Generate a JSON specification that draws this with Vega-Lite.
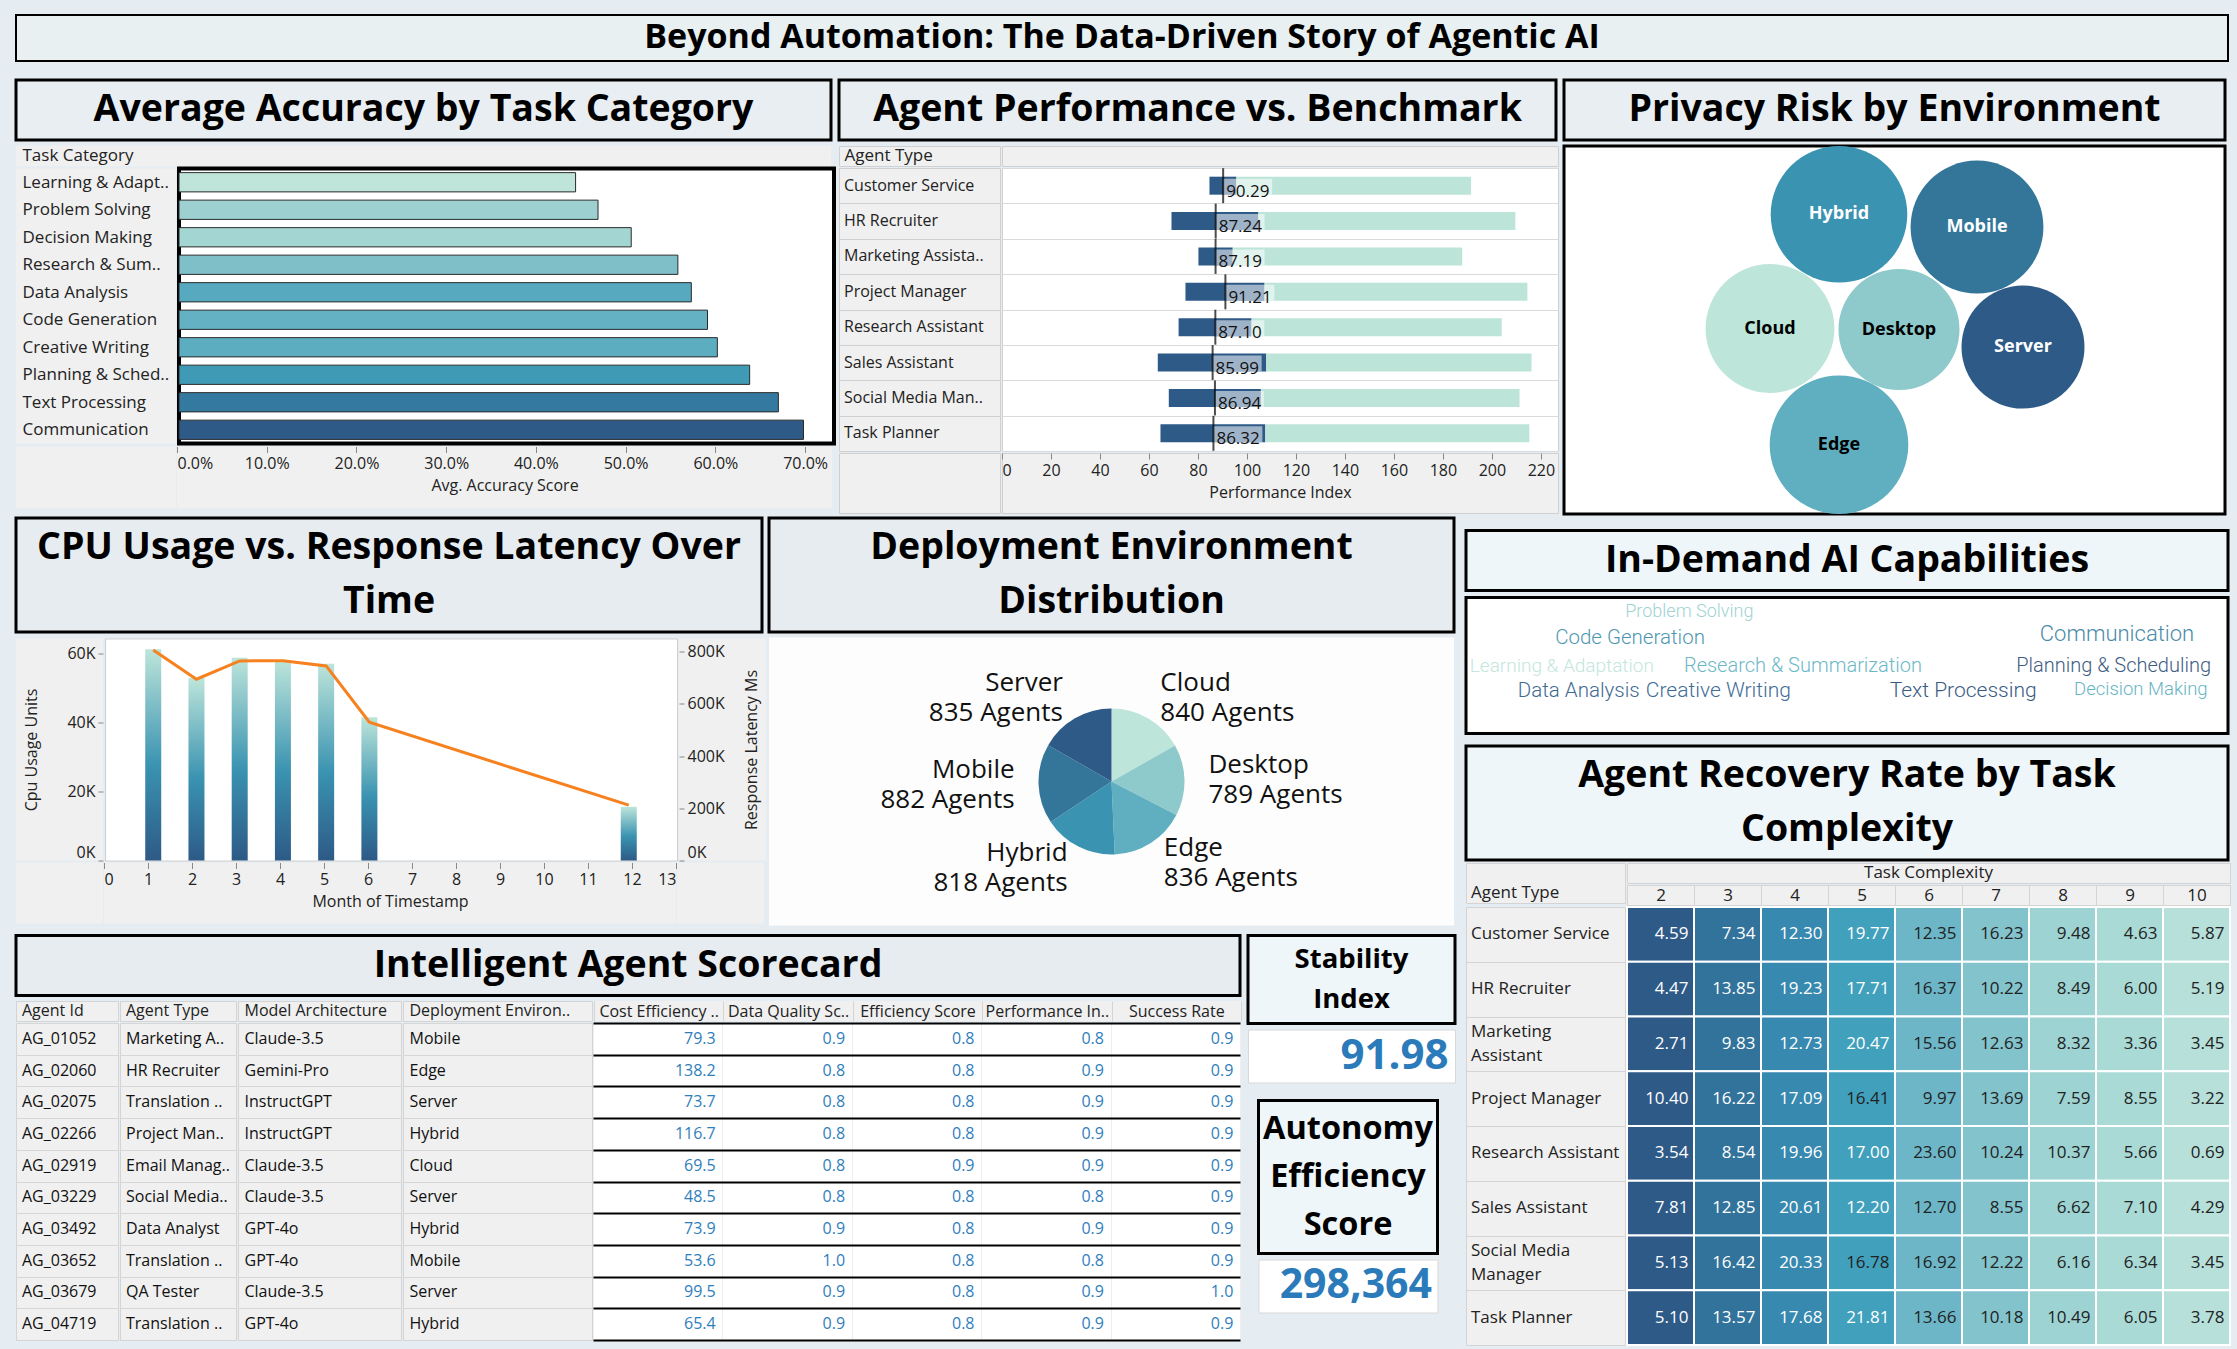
{
"$schema":"https://vega.github.io/schema/vega-lite/v6.json",
"background":"#e5edf3",
"padding":{"left":14,"top":14,"right":13,"bottom":6},
"config":{
 "font":"Open Sans",
 "view":{"stroke":null},
 "axis":{"labelFont":"Open Sans","titleFont":"Open Sans","labelFontSize":16,"titleFontSize":16,"titleFontWeight":"normal","labelColor":"#222","titleColor":"#222","tickColor":"#888","grid":false,"minExtent":0},
 "text":{"font":"Open Sans"}
},
"datasets":{
 "acc":[
  {"Task Category":"Learning & Adaptation","Avg Accuracy":0.442},
  {"Task Category":"Problem Solving","Avg Accuracy":0.467},
  {"Task Category":"Decision Making","Avg Accuracy":0.504},
  {"Task Category":"Research & Summarization","Avg Accuracy":0.556},
  {"Task Category":"Data Analysis","Avg Accuracy":0.571},
  {"Task Category":"Code Generation","Avg Accuracy":0.589},
  {"Task Category":"Creative Writing","Avg Accuracy":0.600},
  {"Task Category":"Planning & Scheduling","Avg Accuracy":0.636},
  {"Task Category":"Text Processing","Avg Accuracy":0.668},
  {"Task Category":"Communication","Avg Accuracy":0.696}
 ],
 "perf":[
  {"agent":"Customer Service","low":84.7,"mid":95.7,"high":191.5,"avg":90.29,"bandHigh":110.3},
  {"agent":"HR Recruiter","low":69.2,"mid":104.7,"high":209.6,"avg":87.24,"bandHigh":107.2},
  {"agent":"Marketing Assistant","low":80.2,"mid":94.2,"high":187.9,"avg":87.19,"bandHigh":107.2},
  {"agent":"Project Manager","low":74.9,"mid":107.2,"high":214.5,"avg":91.21,"bandHigh":111.2},
  {"agent":"Research Assistant","low":72.1,"mid":101.9,"high":204.0,"avg":87.10,"bandHigh":107.1},
  {"agent":"Sales Assistant","low":63.6,"mid":107.9,"high":216.2,"avg":85.99,"bandHigh":106.0},
  {"agent":"Social Media Manager","low":68.1,"mid":105.7,"high":211.3,"avg":86.94,"bandHigh":106.9},
  {"agent":"Task Planner","low":64.7,"mid":107.5,"high":215.3,"avg":86.32,"bandHigh":106.3}
 ],
 "bubble":[
  {"env":"Hybrid","px":27.5,"py":7.0,"risk":46.6},
  {"env":"Mobile","px":41.3,"py":8.3,"risk":44.1},
  {"env":"Cloud","px":20.6,"py":18.7,"risk":41.5},
  {"env":"Desktop","px":33.5,"py":18.8,"risk":36.6},
  {"env":"Server","px":45.9,"py":20.6,"risk":37.8},
  {"env":"Edge","px":27.5,"py":30.6,"risk":48.0}
 ],
 "cpu":[
  {"month":1,"cpu":61400,"latency":806700},
  {"month":2,"cpu":53000,"latency":695000},
  {"month":3,"cpu":58900,"latency":765000},
  {"month":4,"cpu":58000,"latency":766000},
  {"month":5,"cpu":57200,"latency":746000},
  {"month":6,"cpu":41600,"latency":530000},
  {"month":12,"cpu":15600,"latency":212000}
 ],
 "deploy":[
  {"env":"Cloud","agents":840},
  {"env":"Desktop","agents":789},
  {"env":"Edge","agents":836},
  {"env":"Hybrid","agents":818},
  {"env":"Mobile","agents":882},
  {"env":"Server","agents":835}
 ],
 "skills":[
  {"skill":"Problem Solving","wx":20.9,"wy":11.0,"demand":180},
  {"skill":"Code Generation","wx":11.7,"wy":30.1,"demand":205},
  {"skill":"Communication","wx":75.3,"wy":27.2,"demand":220},
  {"skill":"Learning & Adaptation","wx":0.5,"wy":50.0,"demand":190},
  {"skill":"Research & Summarization","wx":28.6,"wy":50.0,"demand":200},
  {"skill":"Planning & Scheduling","wx":72.2,"wy":50.0,"demand":200},
  {"skill":"Data Analysis","wx":6.8,"wy":68.4,"demand":205},
  {"skill":"Creative Writing","wx":23.6,"wy":69.1,"demand":210},
  {"skill":"Text Processing","wx":55.6,"wy":69.1,"demand":210},
  {"skill":"Decision Making","wx":79.8,"wy":67.6,"demand":185}
 ],
 "recovery":[
  {"agent":"Customer Service","complexity":2,"rate":4.59},{"agent":"Customer Service","complexity":3,"rate":7.34},{"agent":"Customer Service","complexity":4,"rate":12.30},{"agent":"Customer Service","complexity":5,"rate":19.77},{"agent":"Customer Service","complexity":6,"rate":12.35},{"agent":"Customer Service","complexity":7,"rate":16.23},{"agent":"Customer Service","complexity":8,"rate":9.48},{"agent":"Customer Service","complexity":9,"rate":4.63},{"agent":"Customer Service","complexity":10,"rate":5.87},
  {"agent":"HR Recruiter","complexity":2,"rate":4.47},{"agent":"HR Recruiter","complexity":3,"rate":13.85},{"agent":"HR Recruiter","complexity":4,"rate":19.23},{"agent":"HR Recruiter","complexity":5,"rate":17.71},{"agent":"HR Recruiter","complexity":6,"rate":16.37},{"agent":"HR Recruiter","complexity":7,"rate":10.22},{"agent":"HR Recruiter","complexity":8,"rate":8.49},{"agent":"HR Recruiter","complexity":9,"rate":6.00},{"agent":"HR Recruiter","complexity":10,"rate":5.19},
  {"agent":"Marketing Assistant","complexity":2,"rate":2.71},{"agent":"Marketing Assistant","complexity":3,"rate":9.83},{"agent":"Marketing Assistant","complexity":4,"rate":12.73},{"agent":"Marketing Assistant","complexity":5,"rate":20.47},{"agent":"Marketing Assistant","complexity":6,"rate":15.56},{"agent":"Marketing Assistant","complexity":7,"rate":12.63},{"agent":"Marketing Assistant","complexity":8,"rate":8.32},{"agent":"Marketing Assistant","complexity":9,"rate":3.36},{"agent":"Marketing Assistant","complexity":10,"rate":3.45},
  {"agent":"Project Manager","complexity":2,"rate":10.40},{"agent":"Project Manager","complexity":3,"rate":16.22},{"agent":"Project Manager","complexity":4,"rate":17.09},{"agent":"Project Manager","complexity":5,"rate":16.41},{"agent":"Project Manager","complexity":6,"rate":9.97},{"agent":"Project Manager","complexity":7,"rate":13.69},{"agent":"Project Manager","complexity":8,"rate":7.59},{"agent":"Project Manager","complexity":9,"rate":8.55},{"agent":"Project Manager","complexity":10,"rate":3.22},
  {"agent":"Research Assistant","complexity":2,"rate":3.54},{"agent":"Research Assistant","complexity":3,"rate":8.54},{"agent":"Research Assistant","complexity":4,"rate":19.96},{"agent":"Research Assistant","complexity":5,"rate":17.00},{"agent":"Research Assistant","complexity":6,"rate":23.60},{"agent":"Research Assistant","complexity":7,"rate":10.24},{"agent":"Research Assistant","complexity":8,"rate":10.37},{"agent":"Research Assistant","complexity":9,"rate":5.66},{"agent":"Research Assistant","complexity":10,"rate":0.69},
  {"agent":"Sales Assistant","complexity":2,"rate":7.81},{"agent":"Sales Assistant","complexity":3,"rate":12.85},{"agent":"Sales Assistant","complexity":4,"rate":20.61},{"agent":"Sales Assistant","complexity":5,"rate":12.20},{"agent":"Sales Assistant","complexity":6,"rate":12.70},{"agent":"Sales Assistant","complexity":7,"rate":8.55},{"agent":"Sales Assistant","complexity":8,"rate":6.62},{"agent":"Sales Assistant","complexity":9,"rate":7.10},{"agent":"Sales Assistant","complexity":10,"rate":4.29},
  {"agent":"Social Media Manager","complexity":2,"rate":5.13},{"agent":"Social Media Manager","complexity":3,"rate":16.42},{"agent":"Social Media Manager","complexity":4,"rate":20.33},{"agent":"Social Media Manager","complexity":5,"rate":16.78},{"agent":"Social Media Manager","complexity":6,"rate":16.92},{"agent":"Social Media Manager","complexity":7,"rate":12.22},{"agent":"Social Media Manager","complexity":8,"rate":6.16},{"agent":"Social Media Manager","complexity":9,"rate":6.34},{"agent":"Social Media Manager","complexity":10,"rate":3.45},
  {"agent":"Task Planner","complexity":2,"rate":5.10},{"agent":"Task Planner","complexity":3,"rate":13.57},{"agent":"Task Planner","complexity":4,"rate":17.68},{"agent":"Task Planner","complexity":5,"rate":21.81},{"agent":"Task Planner","complexity":6,"rate":13.66},{"agent":"Task Planner","complexity":7,"rate":10.18},{"agent":"Task Planner","complexity":8,"rate":10.49},{"agent":"Task Planner","complexity":9,"rate":6.05},{"agent":"Task Planner","complexity":10,"rate":3.78}
 ],
 "score":[
  {"Agent Id":"AG_01052","Agent Type":"Marketing Assistant","Model Architecture":"Claude-3.5","Deployment Environment":"Mobile","Cost Efficiency Ratio":79.3,"Data Quality Score":0.9,"Efficiency Score":0.8,"Performance Index":0.8,"Success Rate":0.9},
  {"Agent Id":"AG_02060","Agent Type":"HR Recruiter","Model Architecture":"Gemini-Pro","Deployment Environment":"Edge","Cost Efficiency Ratio":138.2,"Data Quality Score":0.8,"Efficiency Score":0.8,"Performance Index":0.9,"Success Rate":0.9},
  {"Agent Id":"AG_02075","Agent Type":"Translation Agent","Model Architecture":"InstructGPT","Deployment Environment":"Server","Cost Efficiency Ratio":73.7,"Data Quality Score":0.8,"Efficiency Score":0.8,"Performance Index":0.9,"Success Rate":0.9},
  {"Agent Id":"AG_02266","Agent Type":"Project Manager","Model Architecture":"InstructGPT","Deployment Environment":"Hybrid","Cost Efficiency Ratio":116.7,"Data Quality Score":0.8,"Efficiency Score":0.8,"Performance Index":0.9,"Success Rate":0.9},
  {"Agent Id":"AG_02919","Agent Type":"Email Manager","Model Architecture":"Claude-3.5","Deployment Environment":"Cloud","Cost Efficiency Ratio":69.5,"Data Quality Score":0.8,"Efficiency Score":0.9,"Performance Index":0.9,"Success Rate":0.9},
  {"Agent Id":"AG_03229","Agent Type":"Social Media Manager","Model Architecture":"Claude-3.5","Deployment Environment":"Server","Cost Efficiency Ratio":48.5,"Data Quality Score":0.8,"Efficiency Score":0.8,"Performance Index":0.8,"Success Rate":0.9},
  {"Agent Id":"AG_03492","Agent Type":"Data Analyst","Model Architecture":"GPT-4o","Deployment Environment":"Hybrid","Cost Efficiency Ratio":73.9,"Data Quality Score":0.9,"Efficiency Score":0.8,"Performance Index":0.9,"Success Rate":0.9},
  {"Agent Id":"AG_03652","Agent Type":"Translation Agent","Model Architecture":"GPT-4o","Deployment Environment":"Mobile","Cost Efficiency Ratio":53.6,"Data Quality Score":1.0,"Efficiency Score":0.8,"Performance Index":0.8,"Success Rate":0.9},
  {"Agent Id":"AG_03679","Agent Type":"QA Tester","Model Architecture":"Claude-3.5","Deployment Environment":"Server","Cost Efficiency Ratio":99.5,"Data Quality Score":0.9,"Efficiency Score":0.8,"Performance Index":0.9,"Success Rate":1.0},
  {"Agent Id":"AG_04719","Agent Type":"Translation Agent","Model Architecture":"GPT-4o","Deployment Environment":"Hybrid","Cost Efficiency Ratio":65.4,"Data Quality Score":0.9,"Efficiency Score":0.8,"Performance Index":0.9,"Success Rate":0.9}
 ]
},
"spacing":16,
"resolve":{"scale":{"color":"independent","size":"independent"}},
"vconcat":[
 {"width":2212,"height":46,"data":{"values":[{"t":"Beyond Automation: The Data-Driven Story of Agentic AI"}]},"mark":{"type":"text","fontSize":34,"fontWeight":"bold","color":"#000"},"encoding":{"text":{"field":"t","type":"nominal"}},"view":{"fill":"#e8f0f1","stroke":"#000","strokeWidth":2}},
 {"spacing":0,"resolve":{"scale":{"color":"independent","size":"independent"}},"vconcat":[
  {"spacing":1,"resolve":{"scale":{"color":"independent","size":"independent"}},"hconcat":[
   {"spacing":3.5,"resolve":{"scale":{"color":"independent","size":"independent"}},"vconcat":[
    {"width":815,"height":60,"data":{"values":[{"t":"Average Accuracy by Task Category"}]},"mark":{"type":"text","fontSize":37.5,"fontWeight":"bold","color":"#000"},"encoding":{"text":{"field":"t","type":"nominal"}},"view":{"fill":"#e8eef2","stroke":"#000","strokeWidth":3}},
    {"spacing":0,"resolve":{"scale":{"color":"independent","size":"independent"}},"vconcat":[
     {"width":815,"height":21,"data":{"values":[{"t":"Task Category"}]},"mark":{"type":"text","align":"left","dx":-401,"fontSize":17,"color":"#222"},"encoding":{"text":{"field":"t","type":"nominal"}},"view":{"fill":"#f0f0f0","stroke":null}},
     {"spacing":0,"resolve":{"scale":{"color":"independent","size":"independent"}},"hconcat":[
      {"width":160,"height":275,"data":{"name":"acc"},"mark":{"type":"point","opacity":0},
       "encoding":{"y":{"field":"Task Category","type":"nominal","sort":{"field":"Avg Accuracy","order":"ascending"},"scale":{"paddingInner":0.3,"paddingOuter":0.15},
         "axis":{"orient":"left","offset":-160,"title":null,"labelAlign":"left","labelPadding":154,"labelFontSize":17,"ticks":false,"domain":false,"labelLimit":160,
                 "labelExpr":"datum.label == 'Learning & Adaptation' ? 'Learning & Adapt..' : datum.label == 'Research & Summarization' ? 'Research & Sum..' : datum.label == 'Planning & Scheduling' ? 'Planning & Sched..' : datum.label"}}},
       "view":{"fill":"#f0f0f0","stroke":null}},
      {"width":655,"height":275,"data":{"name":"acc"},
       "mark":{"type":"bar","stroke":"#2b2b2b","strokeWidth":1},
       "encoding":{
        "y":{"field":"Task Category","type":"nominal","sort":{"field":"Avg Accuracy","order":"ascending"},"scale":{"paddingInner":0.3,"paddingOuter":0.15},"axis":null},
        "x":{"field":"Avg Accuracy","type":"quantitative","scale":{"domain":[0,0.73],"nice":false},"axis":null},
        "color":{"field":"Avg Accuracy","type":"quantitative","legend":null,"scale":{"domain":[0.442,0.467,0.504,0.556,0.571,0.589,0.600,0.636,0.668,0.696],"range":["#bfe5da","#9dd1d1","#a3d6d2","#7fc0c8","#56a9bf","#63b1c2","#5dadc1","#3f9ab5","#347aa0","#2e5a87"]}}
       },
       "view":{"fill":"white","stroke":"#000","strokeWidth":4}}
     ]},
     {"spacing":0,"resolve":{"scale":{"color":"independent","size":"independent"}},"hconcat":[
      {"width":160,"height":62,"data":{"values":[{}]},"mark":{"type":"text","text":""},"encoding":{},"view":{"fill":"#f0f0f0","stroke":null}},
      {"width":655,"height":62,"data":{"name":"acc"},"mark":{"type":"point","opacity":0},
       "encoding":{"x":{"field":"Avg Accuracy","type":"quantitative","scale":{"domain":[0,0.73],"nice":false},
         "axis":{"orient":"bottom","offset":-62,"values":[0,0.1,0.2,0.3,0.4,0.5,0.6,0.7],"format":".1%","labelFlush":true,"tickSize":6,"domain":false,"title":"Avg. Accuracy Score","labelPadding":3,"titlePadding":6}}},
       "view":{"fill":"#f0f0f0","stroke":null}}
     ]}
    ]}
   ]},
   {"spacing":3,"resolve":{"scale":{"color":"independent","size":"independent"}},"hconcat":[
    {"spacing":3,"resolve":{"scale":{"color":"independent","size":"independent"}},"vconcat":[
     {"width":717,"height":60,"data":{"values":[{"t":"Agent Performance vs. Benchmark"}]},"mark":{"type":"text","fontSize":37.5,"fontWeight":"bold","color":"#000"},"encoding":{"text":{"field":"t","type":"nominal"}},"view":{"fill":"#e8eef2","stroke":"#000","strokeWidth":3}},
     {"spacing":0,"resolve":{"scale":{"color":"independent","size":"independent"}},"vconcat":[
      {"spacing":0,"resolve":{"scale":{"color":"independent","size":"independent"}},"hconcat":[
       {"width":161,"height":20,"data":{"values":[{"t":"Agent Type"}]},"mark":{"type":"text","align":"left","dx":-75,"fontSize":17,"color":"#222"},"encoding":{"text":{"field":"t","type":"nominal"}},"view":{"fill":"#f0f0f0","stroke":"#d0d0d0"}},
       {"width":556,"height":20,"data":{"values":[{}]},"mark":{"type":"text","text":""},"encoding":{},"view":{"fill":"#f0f0f0","stroke":"#d0d0d0"}}
      ]},
      {"spacing":0,"resolve":{"scale":{"color":"independent","size":"independent"}},"hconcat":[
       {"width":161,"height":283,"data":{"name":"perf"},
        "transform":[{"calculate":"datum.agent == 'Marketing Assistant' ? 'Marketing Assista..' : datum.agent == 'Social Media Manager' ? 'Social Media Man..' : datum.agent","as":"disp"}],
        "mark":{"type":"text","align":"left","dx":-75.5,"fontSize":16,"color":"#222"},
        "encoding":{
         "y":{"field":"agent","type":"nominal","sort":null,"scale":{"paddingInner":0,"paddingOuter":0},"axis":{"title":null,"labels":false,"ticks":false,"domain":false,"grid":true,"gridColor":"#d0d0d0","tickBand":"extent"}},
         "text":{"field":"disp","type":"nominal"}},
        "view":{"fill":"#f0f0f0","stroke":"#d0d0d0"}},
       {"width":556,"height":283,"data":{"name":"perf"},
        "encoding":{"y":{"field":"agent","type":"nominal","sort":null,"scale":{"paddingInner":0,"paddingOuter":0},
          "axis":{"title":null,"labels":false,"ticks":false,"domain":false,"grid":true,"gridColor":"#dadada","tickBand":"extent"}}},
        "layer":[
         {"mark":{"type":"bar","height":18,"color":"#2e5a87"},"encoding":{"x":{"field":"low","type":"quantitative","scale":{"domain":[0,227],"nice":false},"axis":null},"x2":{"field":"mid"}}},
         {"mark":{"type":"bar","height":18,"color":"#bde4d8"},"encoding":{"x":{"field":"mid","type":"quantitative","axis":null},"x2":{"field":"high"}}},
         {"mark":{"type":"bar","height":16,"color":"#ffffff","opacity":0.54,"yOffset":1},"encoding":{"x":{"field":"avg","type":"quantitative","axis":null},"x2":{"field":"bandHigh"}}},
         {"mark":{"type":"tick","color":"#000","thickness":2,"size":35},"encoding":{"x":{"field":"avg","type":"quantitative","axis":null}}},
         {"mark":{"type":"text","align":"left","dx":3,"dy":6,"fontSize":17,"color":"#111"},"encoding":{"x":{"field":"avg","type":"quantitative","axis":null},"text":{"field":"avg","type":"quantitative","format":".2f"}}}
        ],
        "view":{"fill":"white","stroke":"#d0d0d0"}}
      ]},
      {"spacing":0,"resolve":{"scale":{"color":"independent","size":"independent"}},"hconcat":[
       {"width":161,"height":60,"data":{"values":[{}]},"mark":{"type":"text","text":""},"encoding":{},"view":{"fill":"#f0f0f0","stroke":"#d0d0d0"}},
       {"width":556,"height":60,"data":{"name":"perf"},"mark":{"type":"point","opacity":0},
        "encoding":{"x":{"field":"avg","type":"quantitative","scale":{"domain":[0,227],"nice":false},
          "axis":{"orient":"bottom","offset":-60,"values":[0,20,40,60,80,100,120,140,160,180,200,220],"labelFlush":true,"tickSize":6,"domain":false,"title":"Performance Index","labelPadding":3,"titlePadding":6}}},
        "view":{"fill":"#f0f0f0","stroke":"#d0d0d0"}}
      ]}
     ]}
    ]},
    {"spacing":2,"resolve":{"scale":{"color":"independent","size":"independent"}},"vconcat":[
     {"width":661,"height":60,"data":{"values":[{"t":"Privacy Risk by Environment"}]},"mark":{"type":"text","fontSize":37.5,"fontWeight":"bold","color":"#000"},"encoding":{"text":{"field":"t","type":"nominal"}},"view":{"fill":"#e8eef2","stroke":"#000","strokeWidth":3}},
     {"width":661,"height":368,"data":{"name":"bubble"},
      "encoding":{
       "x":{"field":"px","type":"quantitative","scale":{"domain":[0,66.1],"nice":false,"zero":false},"axis":null},
       "y":{"field":"py","type":"quantitative","scale":{"domain":[0,37.7],"nice":false,"zero":false,"reverse":true},"axis":null}
      },
      "layer":[
       {"mark":{"type":"circle","opacity":1},"encoding":{
         "size":{"field":"risk","type":"quantitative","scale":{"domain":[0,48],"range":[0,19210]},"legend":null},
         "color":{"field":"env","type":"nominal","legend":null,"scale":{"domain":["Cloud","Desktop","Edge","Hybrid","Mobile","Server"],"range":["#bde5da","#8ecacb","#5fafc1","#3a93b1","#33769a","#2d5a86"]}}}},
       {"mark":{"type":"text","fontSize":18,"fontWeight":"bold"},"encoding":{
         "text":{"field":"env","type":"nominal"},
         "color":{"condition":{"test":"indexof(['Hybrid','Mobile','Server'], datum.env) >= 0","value":"#ffffff"},"value":"#000000"}}}
      ],
      "view":{"fill":"white","stroke":"#000","strokeWidth":3}}
    ]}
   ]}
  ]},
  {"spacing":7,"resolve":{"scale":{"color":"independent","size":"independent"}},"hconcat":[
   {"spacing":7.5,"resolve":{"scale":{"color":"independent","size":"independent"}},"vconcat":[
    {"spacing":1,"resolve":{"scale":{"color":"independent","size":"independent"}},"hconcat":[
     {"spacing":3.5,"resolve":{"scale":{"color":"independent","size":"independent"}},"vconcat":[
      {"width":746,"height":114,"data":{"values":[{"t":"CPU Usage vs. Response Latency Over\nTime"}]},"mark":{"type":"text","fontSize":37.5,"fontWeight":"bold","lineBreak":"\n","lineHeight":54,"dy":-27,"color":"#000"},"encoding":{"text":{"field":"t","type":"nominal"}},"view":{"fill":"#e6ecf0","stroke":"#000","strokeWidth":3}},
      {"spacing":0,"resolve":{"scale":{"color":"independent","size":"independent"}},"vconcat":[
       {"spacing":0,"resolve":{"scale":{"color":"independent","size":"independent"}},"hconcat":[
        {"width":87,"height":222,"data":{"name":"cpu"},"mark":{"type":"point","opacity":0},
         "encoding":{"y":{"field":"cpu","type":"quantitative","scale":{"domain":[0,64500],"nice":false},
           "axis":{"orient":"left","offset":-87,"title":"Cpu Usage Units","values":[0,20000,40000,60000],"labelExpr":"format(datum.value/1000,'d') + 'K'","labelFlush":true,"tickSize":5,"labelPadding":3,"domain":false,"titleX":-72,"titleY":111,"titleAngle":-90,"titleBaseline":"middle"}}},
         "view":{"fill":"#f0f0f0","stroke":null}},
        {"width":572,"height":222,"data":{"name":"cpu"},
         "layer":[
          {"mark":{"type":"bar","width":16,"color":{"gradient":"linear","x1":0,"y1":1,"x2":0,"y2":0,"stops":[{"offset":0,"color":"#2d5a86"},{"offset":0.45,"color":"#3a93b1"},{"offset":1,"color":"#bde5da"}]}},
           "encoding":{
            "x":{"field":"month","type":"quantitative","scale":{"domain":[0,13],"nice":false},"axis":null},
            "y":{"field":"cpu","type":"quantitative","scale":{"domain":[0,64500],"nice":false},"axis":null}}},
          {"mark":{"type":"line","color":"#f7811e","strokeWidth":3},
           "encoding":{
            "x":{"field":"month","type":"quantitative","axis":null},
            "y":{"field":"latency","type":"quantitative","scale":{"domain":[0,851000],"nice":false},"axis":null}}}
         ],
         "resolve":{"scale":{"y":"independent"}},
         "view":{"fill":"white","stroke":"#cfcfcf"}},
        {"width":87,"height":222,"data":{"name":"cpu"},"mark":{"type":"point","opacity":0},
         "encoding":{"y":{"field":"latency","type":"quantitative","scale":{"domain":[0,851000],"nice":false},
           "axis":{"orient":"right","offset":-87,"title":"Response Latency Ms","values":[0,200000,400000,600000,800000],"labelExpr":"format(datum.value/1000,'d') + 'K'","labelFlush":true,"tickSize":5,"labelPadding":3,"domain":false,"titleX":72,"titleY":111,"titleAngle":-90,"titleBaseline":"middle"}}},
         "view":{"fill":"#f0f0f0","stroke":null}}
       ]},
       {"spacing":0,"resolve":{"scale":{"color":"independent","size":"independent"}},"hconcat":[
        {"width":87,"height":61,"data":{"values":[{}]},"mark":{"type":"text","text":""},"encoding":{},"view":{"fill":"#f0f0f0","stroke":null}},
        {"width":572,"height":61,"data":{"name":"cpu"},"mark":{"type":"point","opacity":0},
         "encoding":{"x":{"field":"month","type":"quantitative","scale":{"domain":[0,13],"nice":false},
           "axis":{"orient":"bottom","offset":-61,"values":[0,1,2,3,4,5,6,7,8,9,10,11,12,13],"labelFlush":true,"tickSize":6,"domain":false,"title":"Month of Timestamp","labelPadding":3,"titlePadding":6}}},
         "view":{"fill":"#f0f0f0","stroke":null}},
        {"width":87,"height":61,"data":{"values":[{}]},"mark":{"type":"text","text":""},"encoding":{},"view":{"fill":"#f0f0f0","stroke":null}}
       ]}
      ]}
     ]},
     {"spacing":3.5,"resolve":{"scale":{"color":"independent","size":"independent"}},"vconcat":[
      {"width":685,"height":114,"data":{"values":[{"t":"Deployment Environment\nDistribution"}]},"mark":{"type":"text","fontSize":37.5,"fontWeight":"bold","lineBreak":"\n","lineHeight":54,"dy":-27,"color":"#000"},"encoding":{"text":{"field":"t","type":"nominal"}},"view":{"fill":"#e6ecf0","stroke":"#000","strokeWidth":3}},
      {"width":685,"height":288,"data":{"name":"deploy"},
       "transform":[{"calculate":"[datum.env, datum.agents + ' Agents']","as":"label"}],
       "encoding":{
        "theta":{"field":"agents","type":"quantitative","stack":true},
        "order":{"field":"env","type":"ordinal","sort":"ascending"}
       },
       "layer":[
        {"mark":{"type":"arc","outerRadius":73},"encoding":{"color":{"field":"env","type":"nominal","legend":null,"scale":{"domain":["Cloud","Desktop","Edge","Hybrid","Mobile","Server"],"range":["#bde5da","#8ecacb","#5fafc1","#3a93b1","#33769a","#2d5a86"]}}}},
        {"mark":{"type":"text","radius":97,"align":"left","baseline":"middle","fontSize":26,"lineHeight":30,"dy":-15,"color":"#111"},
         "encoding":{"detail":{"field":"env","type":"nominal"},"text":{"condition":{"test":"indexof(['Cloud','Desktop','Edge'], datum.env) >= 0","field":"label","type":"nominal"},"value":""}}},
        {"mark":{"type":"text","radius":97,"align":"right","baseline":"middle","fontSize":26,"lineHeight":30,"dy":-15,"color":"#111"},
         "encoding":{"detail":{"field":"env","type":"nominal"},"text":{"condition":{"test":"indexof(['Hybrid','Mobile','Server'], datum.env) >= 0","field":"label","type":"nominal"},"value":""}}}
       ],
       "view":{"fill":"#fdfdfd","stroke":null}}
     ]}
    ]},
    {"spacing":4,"resolve":{"scale":{"color":"independent","size":"independent"}},"hconcat":[
     {"spacing":2.5,"resolve":{"scale":{"color":"independent","size":"independent"}},"vconcat":[
      {"width":1224,"height":60,"data":{"values":[{"t":"Intelligent Agent Scorecard"}]},"mark":{"type":"text","fontSize":37.5,"fontWeight":"bold","color":"#000"},"encoding":{"text":{"field":"t","type":"nominal"}},"view":{"fill":"#e6ecf0","stroke":"#000","strokeWidth":3}},
      {"spacing":0,"resolve":{"scale":{"color":"independent","size":"independent"}},"vconcat":[
       {"spacing":0,"resolve":{"scale":{"color":"independent","size":"independent"}},"hconcat":[
        {"width":102,"height":20,"data":{"values":[{"h":"Agent Id"}]},"mark":{"type":"text","align":"left","dx":-45,"fontSize":16,"color":"#222"},"encoding":{"text":{"field":"h","type":"nominal"}},"view":{"fill":"#f0f0f0","stroke":"#d4d4d4"}},
        {"width":116,"height":20,"data":{"values":[{"h":"Agent Type"}]},"mark":{"type":"text","align":"left","dx":-52,"fontSize":16,"color":"#222"},"encoding":{"text":{"field":"h","type":"nominal"}},"view":{"fill":"#f0f0f0","stroke":"#d4d4d4"}},
        {"width":163,"height":20,"data":{"values":[{"h":"Model Architecture"}]},"mark":{"type":"text","align":"left","dx":-75,"fontSize":16,"color":"#222"},"encoding":{"text":{"field":"h","type":"nominal"}},"view":{"fill":"#f0f0f0","stroke":"#d4d4d4"}},
        {"width":189,"height":20,"data":{"values":[{"h":"Deployment Environment"}]},"mark":{"type":"text","align":"left","dx":-88,"fontSize":16,"color":"#222","limit":168,"ellipsis":".."},"encoding":{"text":{"field":"h","type":"nominal"}},"view":{"fill":"#f0f0f0","stroke":"#d4d4d4"}},
        {"width":647,"height":20,"data":{"name":"score"},
         "transform":[{"fold":["Cost Efficiency Ratio","Data Quality Score","Efficiency Score","Performance Index","Success Rate"],"as":["metric","val"]}],
         "mark":{"type":"point","opacity":0},
         "encoding":{"x":{"field":"metric","type":"nominal","sort":null,"scale":{"paddingInner":0,"paddingOuter":0},
           "axis":{"orient":"top","offset":-20,"title":null,"labelAngle":0,"labelAlign":"center","labelBaseline":"middle","labelPadding":-10,"tickSize":20,"tickBand":"extent","tickColor":"#d4d4d4","domain":false,
             "labelExpr":"datum.label == 'Cost Efficiency Ratio' ? 'Cost Efficiency ..' : datum.label == 'Data Quality Score' ? 'Data Quality Sc..' : datum.label == 'Performance Index' ? 'Performance In..' : datum.label"}}},
         "view":{"fill":"#f0f0f0","stroke":null}}
       ]},
       {"spacing":0,"resolve":{"scale":{"color":"independent","size":"independent"}},"hconcat":[
        {"width":102,"height":317,"data":{"name":"score"},
         "mark":{"type":"text","align":"left","dx":-45,"fontSize":16,"color":"#111"},
         "encoding":{
          "y":{"field":"Agent Id","type":"nominal","sort":null,"scale":{"paddingInner":0,"paddingOuter":0},"axis":{"title":null,"labels":false,"ticks":false,"domain":false,"grid":true,"gridColor":"#d6d6d6","tickBand":"extent"}},
          "text":{"field":"Agent Id","type":"nominal"}},
         "view":{"fill":"#f0f0f0","stroke":"#d4d4d4"}},
        {"width":116,"height":317,"data":{"name":"score"},
         "mark":{"type":"text","align":"left","dx":-52,"fontSize":16,"color":"#111","limit":105,"ellipsis":".."},
         "encoding":{
          "y":{"field":"Agent Id","type":"nominal","sort":null,"scale":{"paddingInner":0,"paddingOuter":0},"axis":{"title":null,"labels":false,"ticks":false,"domain":false,"grid":true,"gridColor":"#d6d6d6","tickBand":"extent"}},
          "text":{"field":"Agent Type","type":"nominal"}},
         "view":{"fill":"#f0f0f0","stroke":"#d4d4d4"}},
        {"width":163,"height":317,"data":{"name":"score"},
         "mark":{"type":"text","align":"left","dx":-75,"fontSize":16,"color":"#111"},
         "encoding":{
          "y":{"field":"Agent Id","type":"nominal","sort":null,"scale":{"paddingInner":0,"paddingOuter":0},"axis":{"title":null,"labels":false,"ticks":false,"domain":false,"grid":true,"gridColor":"#d6d6d6","tickBand":"extent"}},
          "text":{"field":"Model Architecture","type":"nominal"}},
         "view":{"fill":"#f0f0f0","stroke":"#d4d4d4"}},
        {"width":189,"height":317,"data":{"name":"score"},
         "mark":{"type":"text","align":"left","dx":-88,"fontSize":16,"color":"#111"},
         "encoding":{
          "y":{"field":"Agent Id","type":"nominal","sort":null,"scale":{"paddingInner":0,"paddingOuter":0},"axis":{"title":null,"labels":false,"ticks":false,"domain":false,"grid":true,"gridColor":"#d6d6d6","tickBand":"extent"}},
          "text":{"field":"Deployment Environment","type":"nominal"}},
         "view":{"fill":"#f0f0f0","stroke":"#d4d4d4"}},
        {"width":647,"height":317,"data":{"name":"score"},
         "transform":[{"fold":["Cost Efficiency Ratio","Data Quality Score","Efficiency Score","Performance Index","Success Rate"],"as":["metric","val"]}],
         "mark":{"type":"text","align":"right","dx":58,"fontSize":16,"color":"#2f7ebc"},
         "encoding":{
          "x":{"field":"metric","type":"nominal","sort":null,"scale":{"paddingInner":0,"paddingOuter":0},"axis":{"title":null,"labels":false,"ticks":false,"domain":false,"grid":true,"gridColor":"#eeeeee","tickBand":"extent"}},
          "y":{"field":"Agent Id","type":"nominal","sort":null,"scale":{"paddingInner":0,"paddingOuter":0},"axis":{"title":null,"labels":false,"ticks":false,"domain":false,"grid":true,"gridColor":"#000000","gridWidth":2,"tickBand":"extent"}},
          "text":{"field":"val","type":"quantitative","format":".1f"}},
         "view":{"fill":"white","stroke":null}}
       ]}
      ]}
     ]},
     {"spacing":15,"resolve":{"scale":{"color":"independent","size":"independent"}},"vconcat":[
      {"spacing":3,"resolve":{"scale":{"color":"independent","size":"independent"}},"vconcat":[
       {"width":207,"height":88,"data":{"values":[{"t":"Stability Index"}]},"mark":{"type":"text","fontSize":27.5,"fontWeight":"bold","lineBreak":" ","lineHeight":40,"dy":-20,"color":"#000"},"encoding":{"text":{"field":"t","type":"nominal"}},"view":{"fill":"#eef6fa","stroke":"#000","strokeWidth":3}},
       {"width":207,"height":53,"data":{"values":[{"k":"Stability Index","v":91.98}]},"mark":{"type":"text","fontSize":42,"fontWeight":"bold","align":"right","dx":97,"color":"#2b7bba"},"encoding":{"text":{"field":"v","type":"quantitative","format":".2f"}},"view":{"fill":"white","stroke":"#d8d8d8"}}
      ]},
      {"spacing":7.5,"resolve":{"scale":{"color":"independent","size":"independent"}},"hconcat":[
       {"width":1,"height":1,"data":{"values":[{}]},"mark":{"type":"rect","opacity":0},"encoding":{}},
       {"spacing":3,"resolve":{"scale":{"color":"independent","size":"independent"}},"vconcat":[
        {"width":179,"height":153,"data":{"values":[{"t":"Autonomy Efficiency Score"}]},"mark":{"type":"text","fontSize":32.5,"fontWeight":"bold","lineBreak":" ","lineHeight":48,"dy":-48,"color":"#000"},"encoding":{"text":{"field":"t","type":"nominal"}},"view":{"fill":"#eef6fa","stroke":"#000","strokeWidth":3}},
        {"width":179,"height":53,"data":{"values":[{"k":"Autonomy Efficiency Score","v":298364}]},"mark":{"type":"text","fontSize":41,"fontWeight":"bold","align":"right","dx":84,"color":"#2b7bba"},"encoding":{"text":{"field":"v","type":"quantitative","format":","}},"view":{"fill":"white","stroke":"#d8d8d8"}}
       ]}
      ]}
     ]}
    ]}
   ]},
   {"spacing":8.5,"resolve":{"scale":{"color":"independent","size":"independent"}},"vconcat":[
    {"width":762,"height":2,"data":{"values":[{}]},"mark":{"type":"rect","opacity":0},"encoding":{}},
    {"spacing":3,"resolve":{"scale":{"color":"independent","size":"independent"}},"vconcat":[
     {"width":762,"height":60,"data":{"values":[{"t":"In-Demand AI Capabilities"}]},"mark":{"type":"text","fontSize":37.5,"fontWeight":"bold","color":"#000"},"encoding":{"text":{"field":"t","type":"nominal"}},"view":{"fill":"#eef6fa","stroke":"#000","strokeWidth":3}},
     {"width":762,"height":136,"data":{"name":"skills"},
      "mark":{"type":"text","align":"left","baseline":"middle","font":"Roboto","fontWeight":300,"clip":true},
      "encoding":{
       "x":{"field":"wx","type":"quantitative","scale":{"domain":[0,100],"nice":false,"zero":false},"axis":null},
       "y":{"field":"wy","type":"quantitative","scale":{"domain":[0,100],"nice":false,"zero":false,"reverse":true},"axis":null},
       "text":{"field":"skill","type":"nominal"},
       "size":{"field":"demand","type":"quantitative","scale":{"domain":[0,220],"range":[0,22]},"legend":null},
       "color":{"field":"skill","type":"nominal","legend":null,"scale":{
         "domain":["Problem Solving","Code Generation","Communication","Learning & Adaptation","Research & Summarization","Planning & Scheduling","Data Analysis","Creative Writing","Text Processing","Decision Making"],
         "range":["#9ed3d2","#4f97b1","#4a8aa8","#c3e6dd","#6db8c7","#3d5d82","#3f6a91","#3e6c95","#385b83","#67b4c4"]}}
      },
      "view":{"fill":"white","stroke":"#000","strokeWidth":3}}
    ]},
    {"spacing":0,"resolve":{"scale":{"color":"independent","size":"independent"}},"vconcat":[
     {"width":762,"height":114,"data":{"values":[{"t":"Agent Recovery Rate by Task\nComplexity"}]},"mark":{"type":"text","fontSize":37.5,"fontWeight":"bold","lineBreak":"\n","lineHeight":54,"dy":-27,"color":"#000"},"encoding":{"text":{"field":"t","type":"nominal"}},"view":{"fill":"#eef6fa","stroke":"#000","strokeWidth":3}},
     {"spacing":0,"resolve":{"scale":{"color":"independent","size":"independent"}},"vconcat":[
      {"spacing":0,"resolve":{"scale":{"color":"independent","size":"independent"}},"hconcat":[
       {"width":159,"height":40,"data":{"values":[{"h":"Agent Type"}]},"mark":{"type":"text","align":"left","dx":-74.5,"dy":10,"fontSize":17,"color":"#222"},"encoding":{"text":{"field":"h","type":"nominal"}},"view":{"fill":"#f0f0f0","stroke":"#d4d4d4"}},
       {"spacing":0,"resolve":{"scale":{"color":"independent","size":"independent"}},"vconcat":[
        {"width":603,"height":20,"data":{"values":[{"h":"Task Complexity"}]},"mark":{"type":"text","fontSize":17,"color":"#222"},"encoding":{"text":{"field":"h","type":"nominal"}},"view":{"fill":"#f0f0f0","stroke":"#d4d4d4"}},
        {"width":603,"height":20,"data":{"name":"recovery"},"mark":{"type":"point","opacity":0},
         "encoding":{"x":{"field":"complexity","type":"ordinal","scale":{"paddingInner":0,"paddingOuter":0},
           "axis":{"orient":"top","offset":-20,"title":null,"labelAngle":0,"labelBaseline":"middle","labelPadding":-10,"labelFontSize":17,"tickSize":20,"tickBand":"extent","tickColor":"#d4d4d4","domain":false}}},
         "view":{"fill":"#f0f0f0","stroke":"#d4d4d4"}}
       ]}
      ]},
      {"spacing":0,"resolve":{"scale":{"color":"independent","size":"independent"}},"hconcat":[
       {"width":159,"height":438,"data":{"name":"recovery"},
        "transform":[{"aggregate":[{"op":"count","as":"n"}],"groupby":["agent"]}],
        "encoding":{"y":{"field":"agent","type":"nominal","scale":{"domain":["Customer Service","HR Recruiter","Marketing Assistant","Project Manager","Research Assistant","Sales Assistant","Social Media Manager","Task Planner"],"paddingInner":0,"paddingOuter":0},
          "axis":{"title":null,"labels":false,"ticks":false,"domain":false,"grid":true,"gridColor":"#d4d4d4","tickBand":"extent"}}},
        "layer":[
         {"transform":[{"filter":"datum.agent != 'Marketing Assistant' && datum.agent != 'Social Media Manager'"}],
          "mark":{"type":"text","align":"left","dx":-74.5,"fontSize":17,"color":"#222"},
          "encoding":{"text":{"field":"agent","type":"nominal"}}},
         {"transform":[{"filter":"datum.agent == 'Marketing Assistant' || datum.agent == 'Social Media Manager'"},{"calculate":"datum.agent == 'Marketing Assistant' ? ['Marketing','Assistant'] : ['Social Media','Manager']","as":"lines"}],
          "mark":{"type":"text","align":"left","dx":-74.5,"dy":-12,"fontSize":17,"lineHeight":24,"color":"#222"},
          "encoding":{"text":{"field":"lines","type":"nominal"}}}
        ],
        "view":{"fill":"#f0f0f0","stroke":"#d4d4d4"}},
       {"width":603,"height":438,"data":{"name":"recovery"},
        "encoding":{
         "x":{"field":"complexity","type":"ordinal","scale":{"paddingInner":0,"paddingOuter":0},"axis":null},
         "y":{"field":"agent","type":"nominal","sort":null,"scale":{"paddingInner":0,"paddingOuter":0},"axis":null}
        },
        "layer":[
         {"mark":{"type":"rect","stroke":"#ffffff","strokeWidth":2},
          "encoding":{"color":{"field":"complexity","type":"ordinal","legend":null,"scale":{"domain":[2,3,4,5,6,7,8,9,10],"range":["#2e5a87","#32739b","#3889b0","#41a0bc","#6cb6c7","#82c3cc","#9dd3d2","#a9dad6","#b6e0d9"]}}}},
         {"mark":{"type":"text","align":"right","dx":28,"fontSize":17},
          "encoding":{"text":{"field":"rate","type":"quantitative","format":".2f"},
           "color":{"condition":{"test":"datum.complexity <= 4 || (datum.complexity == 5 && datum.agent != 'Project Manager' && datum.agent != 'Social Media Manager')","value":"#ffffff"},"value":"#222222"}}}
        ]}
      ]}
     ]}
    ]}
   ]}
  ]}
 ]}
]
}
